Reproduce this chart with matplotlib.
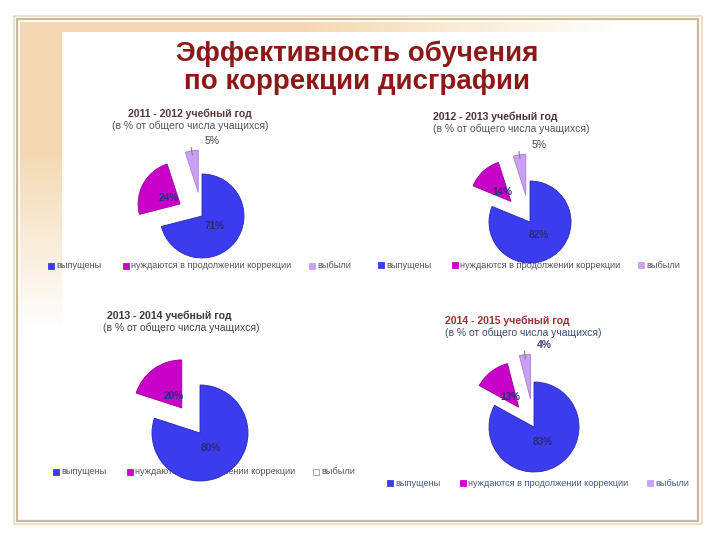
import numpy as np
import matplotlib.pyplot as plt

plt.rcParams['font.family'] = ['Liberation Sans', 'DejaVu Sans']

# data
title = "Эффективность обучения\nпо коррекции дисграфии"
years = ["2011 - 2012 учебный год", "2012 - 2013 учебный год",
         "2013 - 2014 учебный год", "2014 - 2015 учебный год"]
subtitle = "(в % от общего числа учащихся)"
categories = ["выпущены", "нуждаются в продолжении коррекции", "выбыли"]
vals_2011 = [71, 24, 5]
vals_2012 = [82, 14, 5]
vals_2013 = [80, 20, 0]
vals_2014 = [83, 13, 4]
all_vals = [vals_2011, vals_2012, vals_2013, vals_2014]

colors = ['#3b3bef', '#c800c8', '#c9a0f5']

# layout per chart (pixel coords, y from top)
centers = [(202, 216), (530, 222), (200, 433), (534, 427)]
radii = [42, 41, 48, 45]
explodes = [(0, 25, 24), (0, 28, 27), (0, 31, 0), (0, 25, 28)]
title_pos = [(128, 114), (433, 117), (107, 316), (445, 321)]
title_col = ['#5b3b3b', '#4d3535', '#3a3a3a', '#9a3232']
sub_pos = [(112, 126), (433, 129), (103, 328), (445, 333)]
sub_col = ['#555555', '#555555', '#444444', '#3c4a6e']
legend_y = [266, 265, 472, 483]
legend_x = [(48, 123, 309), (378, 452, 638), (53, 127, 313), (387, 460, 647)]
legend_col = ['#555555', '#555555', '#555555', '#4a5a80']

fig = plt.figure(figsize=(7.2, 5.4), dpi=100)

# background frame
bg = fig.add_axes([0, 0, 1, 1])
bg.set_xlim(0, 720)
bg.set_ylim(540, 0)
bg.axis('off')

H, W = 540, 720
yy, xx = np.mgrid[0:H, 0:W]
alpha = np.zeros((H, W))
left = (xx >= 20) & (xx < 62) & (yy >= 22) & (yy < 520)
alpha[left] = np.clip((330 - yy[left]) / 180, 0, 1)
top = (yy >= 22) & (yy < 32) & (xx >= 20) & (xx < 698)
alpha[top] = np.maximum(alpha[top], np.clip((620 - xx[top]) / 320, 0, 1))
rgba = np.zeros((H, W, 4))
rgba[..., :3] = np.array([243, 217, 177]) / 255
rgba[..., 3] = alpha
bg.imshow(rgba, extent=(0, 720, 540, 0), interpolation='bilinear', zorder=1)
bg.add_patch(plt.Rectangle((14, 16), 688, 508, fill=False, ec='#e6dcc8', lw=1.2, zorder=2))
bg.add_patch(plt.Rectangle((17, 19), 681, 502, fill=False, ec='#cbbb94', lw=1.6, zorder=2))

bg.text(357, 68, title, ha='center', va='center', fontsize=20, fontweight='bold',
        color='#8c1818', linespacing=1.1, zorder=3)

for i in range(4):
    bg.text(title_pos[i][0], title_pos[i][1], years[i], ha='left', va='center',
            fontsize=7.6, fontweight='bold', color=title_col[i])
    bg.text(sub_pos[i][0], sub_pos[i][1], subtitle, ha='left', va='center',
            fontsize=7.5, color=sub_col[i])
    for j, cat in enumerate(categories):
        x0 = legend_x[i][j]
        fc = colors[j]
        ec = fc
        if i == 2 and j == 2:
            fc, ec = 'white', '#999999'
        bg.add_patch(plt.Rectangle((x0, legend_y[i] - 3), 6, 6, fc=fc, ec=ec, lw=0.6))
        bg.text(x0 + 8, legend_y[i], cat, ha='left', va='center', fontsize=6.6,
                color=legend_col[i])

# pies
ax = fig.add_axes([0, 0, 1, 1])
ax.patch.set_alpha(0)
for i, vals in enumerate(all_vals):
    cx, cy = centers[i]
    r = radii[i]
    wedges, _ = ax.pie(vals, colors=colors, startangle=90, counterclock=False,
                       explode=explodes[i], center=(cx, 540 - cy), radius=r,
                       frame=True, wedgeprops=dict(lw=0.6))
    for j, w in enumerate(wedges):
        w.set_edgecolor(['#2a2ab0', '#990099', '#a880d0'][j])
        if vals[j] == 0:
            w.set_visible(False)
            continue
        mid = np.deg2rad((w.theta1 + w.theta2) / 2)
        d = np.array([np.cos(mid), np.sin(mid)])
        c = np.array(w.center)
        lab = f"{vals[j]}%"
        if vals[j] > 5:
            k = 0.38 if j == 0 else 0.3
            p = c + k * r * d
            ax.text(p[0], p[1], lab, ha='center', va='center', fontsize=7.2,
                    fontweight='bold', color='#2a2a7a', zorder=5)
        else:
            tip = c + r * d
            p0 = c + 0.9 * r * d
            p1 = c + 1.08 * r * d
            ax.plot([p0[0], p1[0]], [p0[1], p1[1]], color='#777777', lw=0.7)
            col = '#3c4a6e' if i == 3 else '#444444'
            ax.text(tip[0] + 20, tip[1] + 10, lab, ha='center', va='center',
                    fontsize=7.5, fontweight='bold' if i == 3 else 'normal', color=col)
ax.set_xlim(0, 720)
ax.set_ylim(0, 540)
ax.set_aspect('auto')
ax.axis('off')

fig.savefig('out.png', dpi=100)
